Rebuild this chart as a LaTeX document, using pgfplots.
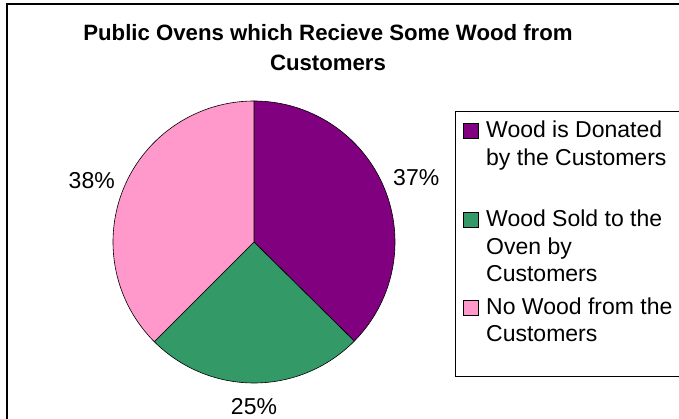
\documentclass[border=0pt]{standalone}
\usepackage{pgfplots}
\pgfplotsset{compat=1.18}
\usepackage{pgfplotstable}
\usepackage{fontspec}
\setmainfont{Liberation Sans}
\definecolor{purp}{HTML}{800080}
\definecolor{grn}{HTML}{339966}
\definecolor{pnk}{HTML}{FF99CC}
\pgfplotstableread{
share
37.4
25.1
37.5
}\piedata
\pgfplotstablegetelem{0}{share}\of\piedata \let\va\pgfplotsretval
\pgfplotstablegetelem{1}{share}\of\piedata \let\vb\pgfplotsretval
\pgfplotstablegetelem{2}{share}\of\piedata \let\vc\pgfplotsretval
\pgfmathsetmacro\aA{90}
\pgfmathsetmacro\aB{90-3.6*\va}
\pgfmathsetmacro\aC{\aB-3.6*\vb}
\pgfmathsetmacro\aD{\aC-3.6*\vc}
\newcommand\bigtxt{\fontsize{23bp}{28bp}\selectfont}
\newcommand\titletxt{\fontsize{22.2bp}{28bp}\selectfont\bfseries}
\begin{document}
\begin{tikzpicture}
\useasboundingbox (0bp,0bp) rectangle (679bp,419bp);
\clip (0bp,0bp) rectangle (679bp,419bp);
\draw[line width=1.6bp] (7bp,415bp) rectangle (730bp,-40bp);
% title
\node[font=\titletxt, anchor=base] at (328bp,378bp) {Public Ovens which Recieve Some Wood from};
\node[font=\titletxt, anchor=base] at (328bp,348bp) {Customers};
\begin{axis}[at={(254bp,177bp)}, anchor=center, x=141bp, y=141bp,
  xmin=-1, xmax=1, ymin=-1, ymax=1, hide axis, clip=false]
\addplot[fill=purp, draw=black, line width=0.6bp, no markers, domain=\aB:\aA, samples=100, variable=\t] ({cos(\t)},{sin(\t)}) -- (0,0) -- cycle;
\addplot[fill=grn, draw=black, line width=0.6bp, no markers, domain=\aC:\aB, samples=100, variable=\t] ({cos(\t)},{sin(\t)}) -- (0,0) -- cycle;
\addplot[fill=pnk, draw=black, line width=0.6bp, no markers, domain=\aD:\aC, samples=100, variable=\t] ({cos(\t)},{sin(\t)}) -- (0,0) -- cycle;
\node[font=\bigtxt, anchor=base west, inner sep=0pt] at (0.986,0.404) {37\%};
\node[font=\bigtxt, anchor=base, inner sep=0pt] at (0,-1.226) {25\%};
\node[font=\bigtxt, anchor=base east, inner sep=0pt] at (-0.986,0.376) {38\%};
\end{axis}
% legend
\draw[line width=1bp] (455bp,307bp) rectangle (720bp,42bp);
\filldraw[fill=purp, draw=black, line width=0.8bp] (463bp,281bp) rectangle (478bp,296bp);
\filldraw[fill=grn, draw=black, line width=0.8bp] (463bp,192bp) rectangle (478bp,207bp);
\filldraw[fill=pnk, draw=black, line width=0.8bp] (463bp,104bp) rectangle (478bp,119bp);
\node[font=\bigtxt, anchor=base west, inner sep=0pt] at (486bp,281bp) {Wood is Donated};
\node[font=\bigtxt, anchor=base west, inner sep=0pt] at (486bp,253bp) {by the Customers};
\node[font=\bigtxt, anchor=base west, inner sep=0pt] at (486bp,192bp) {Wood Sold to the};
\node[font=\bigtxt, anchor=base west, inner sep=0pt] at (486bp,164bp) {Oven by};
\node[font=\bigtxt, anchor=base west, inner sep=0pt] at (486bp,137bp) {Customers};
\node[font=\bigtxt, anchor=base west, inner sep=0pt] at (486bp,104bp) {No Wood from the};
\node[font=\bigtxt, anchor=base west, inner sep=0pt] at (486bp,77bp) {Customers};
\end{tikzpicture}
\end{document}
